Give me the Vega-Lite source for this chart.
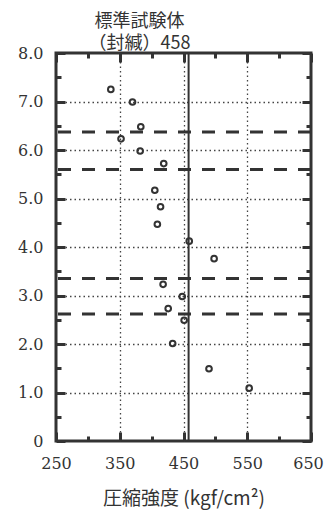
{
  "$schema": "https://vega.github.io/schema/vega-lite/v6.json",
  "width": 255,
  "height": 388,
  "autosize": "none",
  "padding": {"left": 56, "top": 53, "right": 14, "bottom": 74},
  "background": "white",
  "config": {
    "view": {"stroke": "#333", "strokeWidth": 3},
    "axis": {
      "labelFont": "DejaVu Serif",
      "labelFontSize": 16,
      "labelColor": "#333",
      "domain": false,
      "tickColor": "#333",
      "tickWidth": 3,
      "gridColor": "#444",
      "gridDash": [1.5, 3],
      "gridWidth": 1.3,
      "titleFont": "Noto Sans CJK JP",
      "titleFontSize": 19,
      "titleFontWeight": "normal",
      "titleColor": "#333"
    }
  },
  "title": {
    "text": "標準試験体",
    "subtitle": "（封緘）458",
    "font": "Noto Sans CJK JP",
    "fontSize": 18,
    "fontWeight": "normal",
    "color": "#333",
    "subtitleFont": "Noto Sans CJK JP",
    "subtitleFontSize": 18,
    "subtitleColor": "#333",
    "subtitlePadding": 4,
    "anchor": "middle",
    "dx": -44,
    "offset": -8
  },
  "datasets": {
    "points": [
      {"strength": 336, "depth": 7.25},
      {"strength": 370, "depth": 6.99},
      {"strength": 383, "depth": 6.48},
      {"strength": 352, "depth": 6.23},
      {"strength": 382, "depth": 5.98},
      {"strength": 419, "depth": 5.72},
      {"strength": 405, "depth": 5.17},
      {"strength": 414, "depth": 4.83},
      {"strength": 409, "depth": 4.47},
      {"strength": 459, "depth": 4.12},
      {"strength": 498, "depth": 3.76},
      {"strength": 418, "depth": 3.23},
      {"strength": 448, "depth": 2.98},
      {"strength": 426, "depth": 2.73},
      {"strength": 451, "depth": 2.49},
      {"strength": 433, "depth": 2.01},
      {"strength": 490, "depth": 1.49},
      {"strength": 553, "depth": 1.09}
    ],
    "bounds": [
      {"depth": 6.37},
      {"depth": 5.6},
      {"depth": 3.35},
      {"depth": 2.62}
    ],
    "standard": [
      {"strength": 458}
    ]
  },
  "resolve": {"axis": {"x": "independent", "y": "independent"}},
  "layer": [
    {
      "data": {"name": "bounds"},
      "mark": {"type": "rule", "color": "#333", "strokeWidth": 3, "strokeDash": [13, 11]},
      "encoding": {
        "y": {
          "field": "depth",
          "type": "quantitative",
          "scale": {"domain": [0, 8], "nice": false},
          "axis": {
            "orient": "left",
            "title": null,
            "values": [0, 0.5, 1, 1.5, 2, 2.5, 3, 3.5, 4, 4.5, 5, 5.5, 6, 6.5, 7, 7.5, 8],
            "labelExpr": "datum.value === 0 ? '0' : (datum.value % 1 === 0 ? format(datum.value, '.1f') : '')",
            "tickSize": {"condition": {"test": "datum.value % 1 === 0", "value": -9}, "value": -5},
            "labelPadding": 22,
            "labelFlush": false,
            "grid": true,
            "gridOpacity": {"condition": {"test": "datum.value % 1 === 0 && datum.value > 0 && datum.value < 8", "value": 1}, "value": 0}
          }
        }
      }
    },
    {
      "data": {"name": "standard"},
      "mark": {"type": "rule", "color": "#333", "strokeWidth": 2},
      "encoding": {
        "x": {
          "field": "strength",
          "type": "quantitative",
          "scale": {"domain": [250, 650], "nice": false},
          "axis": {
            "orient": "bottom",
            "title": "圧縮強度 (kgf/cm²)",
            "titlePadding": 18,
            "values": [250, 300, 350, 400, 450, 500, 550, 600, 650],
            "labelExpr": "(datum.value - 250) % 100 === 0 ? format(datum.value, 'd') : ''",
            "tickSize": {"condition": {"test": "(datum.value - 250) % 100 === 0", "value": -9}, "value": -5},
            "labelPadding": 23,
            "labelFlush": false,
            "labelOffset": {"condition": {"test": "datum.value === 650", "value": -3}, "value": 0},
            "grid": true,
            "gridOpacity": {"condition": {"test": "datum.value > 250 && datum.value < 650 && (datum.value - 250) % 100 === 0", "value": 1}, "value": 0}
          }
        }
      }
    },
    {
      "data": {"name": "points"},
      "mark": {"type": "point", "shape": "circle", "filled": false, "color": "#333", "strokeWidth": 2, "size": 32, "opacity": 1},
      "encoding": {
        "x": {
          "field": "strength",
          "type": "quantitative",
          "scale": {"domain": [250, 650], "nice": false},
          "axis": {
            "orient": "top",
            "title": null,
            "labels": false,
            "grid": false,
            "values": [250, 300, 350, 400, 450, 500, 550, 600, 650],
            "tickSize": {"condition": {"test": "(datum.value - 250) % 100 === 0", "value": -9}, "value": -5}
          }
        },
        "y": {
          "field": "depth",
          "type": "quantitative",
          "scale": {"domain": [0, 8], "nice": false},
          "axis": {
            "orient": "right",
            "title": null,
            "labels": false,
            "grid": false,
            "values": [0, 0.5, 1, 1.5, 2, 2.5, 3, 3.5, 4, 4.5, 5, 5.5, 6, 6.5, 7, 7.5, 8],
            "tickSize": {"condition": {"test": "datum.value % 1 === 0", "value": -9}, "value": -5}
          }
        }
      }
    }
  ]
}
